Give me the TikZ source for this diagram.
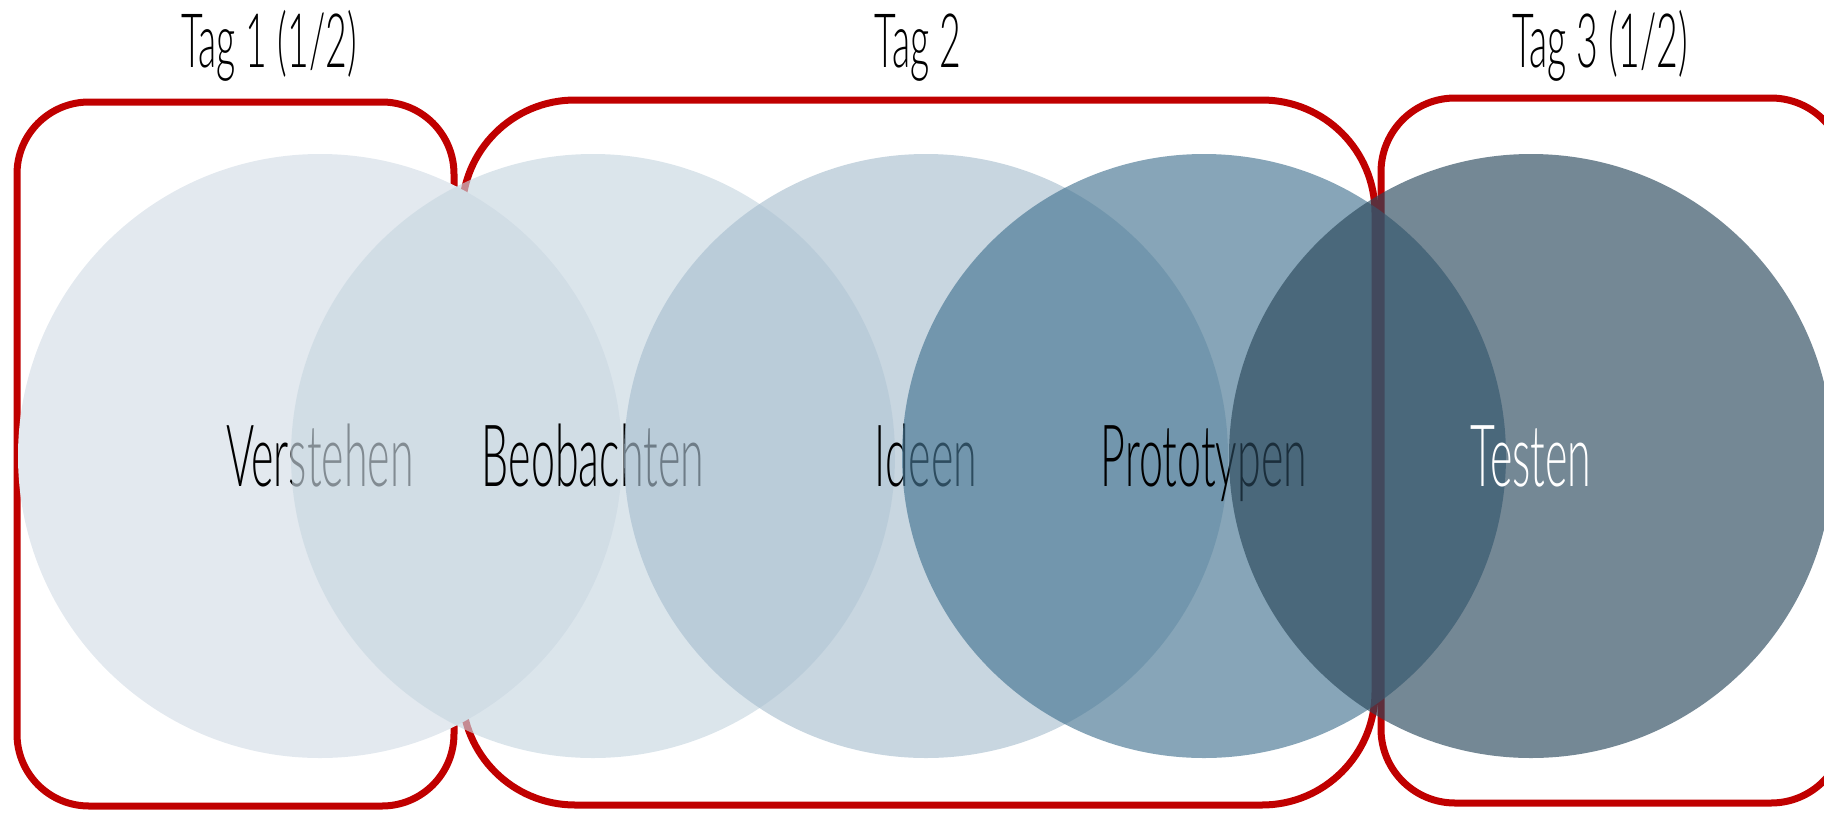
\documentclass[tikz,border=0pt]{standalone}
\usepackage{fontspec}
\setmainfont{Lato}[UprightFont=* Light, FakeStretch=0.5]

\definecolor{tagred}{HTML}{C00000}
\definecolor{phaseA}{HTML}{E3E9EF}
\definecolor{phaseB}{RGB}{200,215,225}
\definecolor{phaseC}{RGB}{170,192,208}
\definecolor{phaseD}{RGB}{70,117,146}
\definecolor{phaseE}{RGB}{42,72,92}

\tikzset{
  daybox/.style={draw=tagred, line width=7pt},
  daylabel/.style={anchor=base, font=\fontsize{75}{80}\selectfont},
  phase/.style={circle, minimum size=604pt, inner sep=0pt,
    fill opacity=0.65, text opacity=1,
    text height=77pt, text depth=17pt,
    font=\fontsize{86}{90}\selectfont}
}

\begin{document}
\begin{tikzpicture}[x=1pt, y=-1pt]
    \useasboundingbox (0,0) rectangle (1824,812);
    \clip (0,0) rectangle (1824,812);

    \draw [daybox, rounded corners=72pt] (17,102) rectangle (454,806);
    \draw [daybox, rounded corners=113pt] (462,100) rectangle (1375,805);
    \draw [daybox, rounded corners=74pt] (1381,98) rectangle (1845,803);

    \node [daylabel] (tag1) at (269,67) {Tag 1 (1/2)};
    \node [daylabel] (tag2) at (918,67) {Tag 2};
    \node [daylabel] (tag3) at (1600,67) {Tag 3 (1/2)};

    \node [phase, fill=phaseA, fill opacity=1] (verstehen) at (320,456) {Verstehen};
    \node [phase, fill=phaseB] (beobachten) at (593,456) {Beobachten};
    \node [phase, fill=phaseC] (ideen) at (926,456) {Ideen};
    \node [phase, fill=phaseD] (prototypen) at (1204,456) {Prototypen};
    \node [phase, fill=phaseE, text=white] (testen) at (1531,456) {Testen};

\end{tikzpicture}
\end{document}
